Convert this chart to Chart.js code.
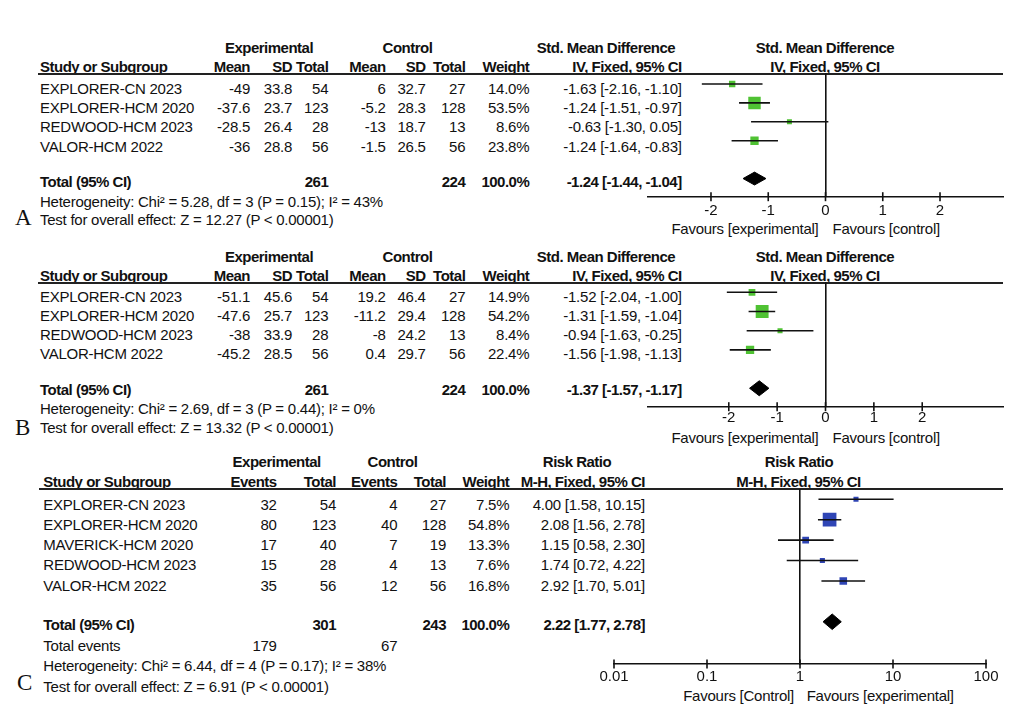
<!DOCTYPE html>
<html lang="en">
<head>
<meta charset="utf-8">
<script src="https://cdn.jsdelivr.net/npm/chart.js@4.4.1/dist/chart.umd.min.js"></script>
<title>Forest plots</title>
<style>
  body { margin: 0; width: 1023px; height: 714px; background: #fff; position: relative; overflow: hidden;
         font-family: "Liberation Sans", Arial, sans-serif; font-size: 15px; color: #111; }
  .t { position: absolute; white-space: nowrap; line-height: 17px; height: 17px; letter-spacing: -0.25px; font-kerning: normal; }
  .b { font-weight: bold; letter-spacing: -0.5px; }
  .rule { position: absolute; height: 2px; background: #222; }
  .letter { position: absolute; font-family: "Liberation Serif", "Times New Roman", serif; font-size: 23px; line-height: 23px; }
</style>
</head>
<body>
<script>
// ---- A: std. mean difference, first outcome
const studiesA = ['EXPLORER-CN 2023', 'EXPLORER-HCM 2020', 'REDWOOD-HCM 2023', 'VALOR-HCM 2022'];
const expMeanA = [-49, -37.6, -28.5, -36];
const expSdA = [33.8, 23.7, 26.4, 28.8];
const expTotalA = [54, 123, 28, 56];
const ctlMeanA = [6, -5.2, -13, -1.5];
const ctlSdA = [32.7, 28.3, 18.7, 26.5];
const ctlTotalA = [27, 128, 13, 56];
const weightA = [14.0, 53.5, 8.6, 23.8];
const smdA = [-1.63, -1.24, -0.63, -1.24];
const lowA = [-2.16, -1.51, -1.30, -1.64];
const highA = [-1.10, -0.97, 0.05, -0.83];
const totalA = [-1.24, -1.44, -1.04];   // estimate, low, high
const sumsA = [261, 224];
const hetA = 'Heterogeneity: Chi\u00b2 = 5.28, df = 3 (P = 0.15); I\u00b2 = 43%';
const testA = 'Test for overall effect: Z = 12.27 (P < 0.00001)';

// ---- B: std. mean difference, second outcome
const studiesB = ['EXPLORER-CN 2023', 'EXPLORER-HCM 2020', 'REDWOOD-HCM 2023', 'VALOR-HCM 2022'];
const expMeanB = [-51.1, -47.6, -38, -45.2];
const expSdB = [45.6, 25.7, 33.9, 28.5];
const expTotalB = [54, 123, 28, 56];
const ctlMeanB = [19.2, -11.2, -8, 0.4];
const ctlSdB = [46.4, 29.4, 24.2, 29.7];
const ctlTotalB = [27, 128, 13, 56];
const weightB = [14.9, 54.2, 8.4, 22.4];
const smdB = [-1.52, -1.31, -0.94, -1.56];
const lowB = [-2.04, -1.59, -1.63, -1.98];
const highB = [-1.00, -1.04, -0.25, -1.13];
const totalB = [-1.37, -1.57, -1.17];
const sumsB = [261, 224];
const hetB = 'Heterogeneity: Chi\u00b2 = 2.69, df = 3 (P = 0.44); I\u00b2 = 0%';
const testB = 'Test for overall effect: Z = 13.32 (P < 0.00001)';

// ---- C: risk ratio
const studiesC = ['EXPLORER-CN 2023', 'EXPLORER-HCM 2020', 'MAVERICK-HCM 2020', 'REDWOOD-HCM 2023', 'VALOR-HCM 2022'];
const expEventsC = [32, 80, 17, 15, 35];
const expTotalC = [54, 123, 40, 28, 56];
const ctlEventsC = [4, 40, 7, 4, 12];
const ctlTotalC = [27, 128, 19, 13, 56];
const weightC = [7.5, 54.8, 13.3, 7.6, 16.8];
const rrC = [4.00, 2.08, 1.15, 1.74, 2.92];
const lowC = [1.58, 1.56, 0.58, 0.72, 1.70];
const highC = [10.15, 2.78, 2.30, 4.22, 5.01];
const totalC = [2.22, 1.77, 2.78];
const sumsC = [301, 243];
const eventsC = [179, 67];
const hetC = 'Heterogeneity: Chi\u00b2 = 6.44, df = 4 (P = 0.17); I\u00b2 = 38%';
const testC = 'Test for overall effect: Z = 6.91 (P < 0.00001)';

const ticksSmd = [-2, -1, 0, 1, 2];
const ticksRr = [0.01, 0.1, 1, 10, 100];

Chart.defaults.font.family = '"Liberation Sans", Arial, sans-serif';
Chart.defaults.font.size = 15;
Chart.defaults.color = '#111';

function txt(s, x, y, align, bold) {
  const el = document.createElement('span');
  el.className = 't' + (bold ? ' b' : '');
  el.textContent = s;
  el.style.left = x + 'px';
  el.style.top = (y - 8.5) + 'px';
  if (align === 'r') el.style.transform = 'translateX(-100%)';
  if (align === 'c') el.style.transform = 'translateX(-50%)';
  document.body.appendChild(el);
}
function rule(x1, x2, y) {
  const el = document.createElement('div');
  el.className = 'rule';
  el.style.left = x1 + 'px';
  el.style.width = (x2 - x1) + 'px';
  el.style.top = (y - 1) + 'px';
  document.body.appendChild(el);
}
function letter(s, x, y) {
  const el = document.createElement('span');
  el.className = 'letter';
  el.textContent = s;
  el.style.left = x + 'px';
  el.style.top = (y - 11.5) + 'px';
  document.body.appendChild(el);
}
const fmt2 = v => v.toFixed(2);
const ciText = (e, l, h) => `${fmt2(e)} [${fmt2(l)}, ${fmt2(h)}]`;

// tick marks crossing the axis line
const crossTicks = {
  id: 'crossTicks',
  afterDraw(chart) {
    const sx = chart.scales.x, ctx = chart.ctx, yb = chart.chartArea.bottom;
    ctx.save();
    ctx.strokeStyle = '#111';
    ctx.lineWidth = 1.6;
    sx.ticks.forEach(t => {
      const px = sx.getPixelForValue(t.value);
      ctx.beginPath();
      ctx.moveTo(px, yb - 4.5);
      ctx.lineTo(px, yb + 4.5);
      ctx.stroke();
    });
    ctx.restore();
  }
};

function forest(L, est, low, high, weight, total, color) {
  const cl = L.left - 50, ct = Math.floor(L.top) - 15;
  const cw = 1023 - cl, ch = Math.ceil(L.bottom - ct) + 40;
  const wrap = document.createElement('div');
  wrap.style.cssText = `position:absolute;left:${cl}px;top:${ct}px;width:${cw}px;height:${ch}px`;
  const cv = document.createElement('canvas');
  cv.width = cw; cv.height = ch;
  wrap.appendChild(cv);
  document.body.appendChild(wrap);

  const datasets = est.map((e, i) => ({
    type: 'line', data: [{x: low[i], y: i}, {x: high[i], y: i}],
    borderColor: '#111', borderWidth: 1.6, pointRadius: 0
  }));
  datasets.push({
    type: 'scatter', data: est.map((e, i) => ({x: e, y: i})),
    pointStyle: 'rect', pointRadius: weight.map(w => L.k * Math.sqrt(w) / Math.SQRT2),
    backgroundColor: color, borderWidth: 0
  });
  const r = L.totalRow, h = L.dia;
  datasets.push({
    type: 'line',
    data: [{x: total[1], y: r}, {x: total[0], y: r - h}, {x: total[2], y: r}, {x: total[0], y: r + h}, {x: total[1], y: r}],
    borderColor: '#000', backgroundColor: '#000', borderWidth: 1, pointRadius: 0, fill: 'shape'
  });

  new Chart(cv, {
    type: 'scatter',
    data: { datasets },
    plugins: [crossTicks],
    options: {
      responsive: false, animation: false, events: [],
      layout: { padding: { left: L.left - cl, right: 1023 - L.right, top: L.top - ct, bottom: ch - (L.bottom - ct) - 30 } },
      plugins: { legend: { display: false }, tooltip: { enabled: false } },
      scales: {
        x: {
          type: L.log ? 'logarithmic' : 'linear', min: L.xmin, max: L.xmax,
          afterBuildTicks: s => { s.ticks = L.ticks.map(v => ({ value: v })); },
          afterFit: s => { s.height = 30; },
          grid: { display: false, drawTicks: false },
          border: { display: true, color: '#111', width: 1.6 },
          ticks: { padding: L.tickPad, autoSkip: false, maxRotation: 0, callback: v => String(v) }
        },
        y: {
          type: 'linear', reverse: true, min: L.ymin, max: L.ymax,
          position: { x: L.log ? 1 : 0 },
          afterFit: s => { s.width = 0; },
          grid: { display: false, drawTicks: false },
          ticks: { display: false },
          border: { display: true, color: '#111', width: 1.6 }
        }
      }
    }
  });
}

function smdPanel(L, names, em, es, et, cm, cs, ctt, w, est, lo, hi, tot, sums, het, test, color) {
  txt('Experimental', 269, L.h1, 'c', true);
  txt('Control', 407.5, L.h1, 'c', true);
  txt('Std. Mean Difference', 606, L.h1, 'c', true);
  txt('Std. Mean Difference', 825, L.h1, 'c', true);
  txt('Study or Subgroup', 40, L.h2, 'l', true);
  const cols = [250, 292, 328.3, 385.7, 425.7, 465.3];
  ['Mean', 'SD', 'Total', 'Mean', 'SD', 'Total'].forEach((s, j) => txt(s, cols[j], L.h2, 'r', true));
  txt('Weight', 529.3, L.h2, 'r', true);
  txt('IV, Fixed, 95% CI', 681.7, L.h2, 'r', true);
  txt('IV, Fixed, 95% CI', 825, L.h2, 'c', true);
  rule(38, 1003, L.top);
  names.forEach((n, i) => {
    const y = L.row0 + i * L.rowStep;
    txt(n, 40, y, 'l');
    [em[i], es[i], et[i], cm[i], cs[i], ctt[i]].forEach((v, j) => txt(String(v), cols[j], y, 'r'));
    txt(w[i].toFixed(1) + '%', 529.3, y, 'r');
    txt(ciText(est[i], lo[i], hi[i]), 681.7, y, 'r');
  });
  txt('Total (95% CI)', 40, L.totalY, 'l', true);
  txt(String(sums[0]), cols[2], L.totalY, 'r', true);
  txt(String(sums[1]), cols[5], L.totalY, 'r', true);
  txt('100.0%', 529.3, L.totalY, 'r', true);
  txt(ciText(tot[0], tot[1], tot[2]), 681.7, L.totalY, 'r', true);
  txt(het, 40, L.hetY, 'l');
  txt(test, 40, L.testY, 'l');
  letter(L.letter, 15, L.letterY);
  txt('Favours [experimental]', 818.5, L.favY, 'r');
  txt('Favours [control]', 832.5, L.favY, 'l');
  forest(L, est, lo, hi, w, tot, color);
}

smdPanel({
  h1: 47.7, h2: 66.5, top: 73.7, bottom: 196.7, left: 648, right: 1003,
  row0: 88.5, rowStep: 19.2, totalY: 181.8, hetY: 201, testY: 219.8,
  letter: 'A', letterY: 217, favY: 228.5,
  xmin: -3.1, xmax: 3.1, ymin: -0.545, ymax: 5.96, ticks: ticksSmd, tickPad: 5,
  totalRow: 5, dia: 0.34, k: 1.7, log: false
}, studiesA, expMeanA, expSdA, expTotalA, ctlMeanA, ctlSdA, ctlTotalA, weightA, smdA, lowA, highA, totalA, sumsA, hetA, testA, '#4fc233');

smdPanel({
  h1: 256.7, h2: 275.7, top: 282.7, bottom: 406.7, left: 648, right: 1003,
  row0: 296, rowStep: 19.2, totalY: 389.5, hetY: 408.5, testY: 427.5,
  letter: 'B', letterY: 427, favY: 437,
  xmin: -3.67, xmax: 3.67, ymin: -0.5, ymax: 5.96, ticks: ticksSmd, tickPad: 2,
  totalRow: 5, dia: 0.39, k: 1.75, log: false
}, studiesB, expMeanB, expSdB, expTotalB, ctlMeanB, ctlSdB, ctlTotalB, weightB, smdB, lowB, highB, totalB, sumsB, hetB, testB, '#4fc233');

// ---- panel C
(function () {
  const L = {
    h1: 461.7, h2: 481.7, top: 489.3, bottom: 664, left: 614, right: 986,
    row0: 504, rowStep: 20.3, totalY: 624.5, eventsY: 645.5, hetY: 665.8, testY: 686,
    letter: 'C', letterY: 682, favY: 695.5,
    xmin: 0.01, xmax: 100, ymin: -0.49, ymax: 8.07, ticks: ticksRr, tickPad: 4,
    totalRow: 6, dia: 0.38, k: 1.85, log: true
  };
  const cols = [276.7, 336, 397.3, 446];
  txt('Experimental', 276.7, L.h1, 'c', true);
  txt('Control', 392.5, L.h1, 'c', true);
  txt('Risk Ratio', 577, L.h1, 'c', true);
  txt('Risk Ratio', 799, L.h1, 'c', true);
  txt('Study or Subgroup', 43.3, L.h2, 'l', true);
  ['Events', 'Total', 'Events', 'Total'].forEach((s, j) => txt(s, cols[j], L.h2, 'r', true));
  txt('Weight', 509.3, L.h2, 'r', true);
  txt('M-H, Fixed, 95% CI', 645, L.h2, 'r', true);
  txt('M-H, Fixed, 95% CI', 798.5, L.h2, 'c', true);
  rule(39, 1003, L.top);
  studiesC.forEach((n, i) => {
    const y = L.row0 + i * L.rowStep;
    txt(n, 43.3, y, 'l');
    [expEventsC[i], expTotalC[i], ctlEventsC[i], ctlTotalC[i]].forEach((v, j) => txt(String(v), cols[j], y, 'r'));
    txt(weightC[i].toFixed(1) + '%', 509.3, y, 'r');
    txt(ciText(rrC[i], lowC[i], highC[i]), 645, y, 'r');
  });
  txt('Total (95% CI)', 43.3, L.totalY, 'l', true);
  txt(String(sumsC[0]), cols[1], L.totalY, 'r', true);
  txt(String(sumsC[1]), cols[3], L.totalY, 'r', true);
  txt('100.0%', 509.3, L.totalY, 'r', true);
  txt(ciText(totalC[0], totalC[1], totalC[2]), 645, L.totalY, 'r', true);
  txt('Total events', 43.3, L.eventsY, 'l');
  txt(String(eventsC[0]), cols[0], L.eventsY, 'r');
  txt(String(eventsC[1]), cols[2], L.eventsY, 'r');
  txt(hetC, 43.3, L.hetY, 'l');
  txt(testC, 43.3, L.testY, 'l');
  letter(L.letter, 17, L.letterY);
  txt('Favours [Control]', 794, L.favY, 'r');
  txt('Favours [experimental]', 806.7, L.favY, 'l');
  forest(L, rrC, lowC, highC, weightC, totalC, '#2f45b5');
})();
</script>
</body>
</html>
